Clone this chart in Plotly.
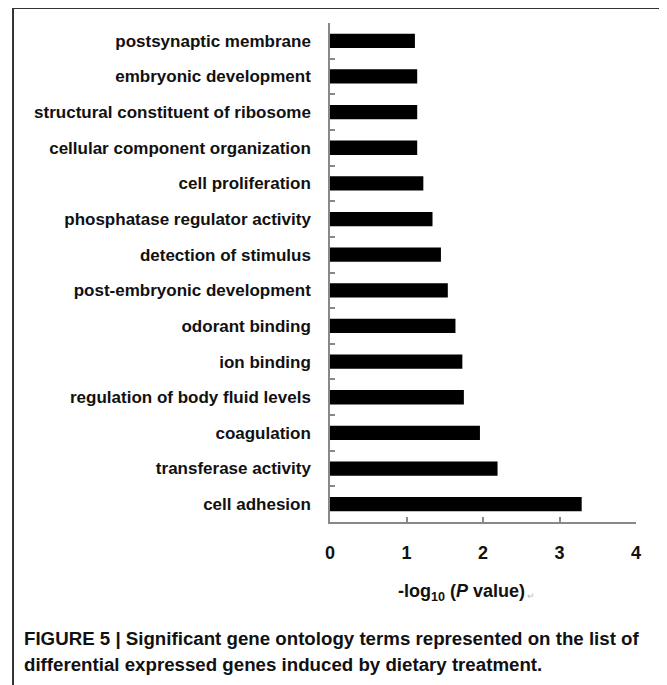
import plotly.graph_objects as go

categories = [
    "postsynaptic membrane",
    "embryonic development",
    "structural constituent of ribosome",
    "cellular component organization",
    "cell proliferation",
    "phosphatase regulator activity",
    "detection of stimulus",
    "post-embryonic development",
    "odorant binding",
    "ion binding",
    "regulation of body fluid levels",
    "coagulation",
    "transferase activity",
    "cell adhesion",
]
values = [1.11, 1.14, 1.14, 1.14, 1.22, 1.34, 1.45, 1.54, 1.64, 1.73, 1.75, 1.96, 2.19, 3.29]
x_ticks = [0, 1, 2, 3, 4]

OFF = 8  # page body margin
W, H = 667 - OFF, 685 - OFF
L, R, T, B = 329.5 - OFF, 31, 23 - OFF, 163
pw = W - L - R
ph = H - T - B

def px(x):
    return (x - OFF - L) / pw

def py(y):
    return (H - B - (y - OFF)) / ph

FONT = "Liberation Sans"

fig = go.Figure(go.Bar(
    x=values, y=categories, orientation="h",
    marker=dict(color="black", line=dict(width=0)),
    width=0.4,
))

fig.update_layout(
    width=W, height=H,
    margin=dict(l=L, r=R, t=T, b=B),
    paper_bgcolor="white", plot_bgcolor="white",
    showlegend=False,
    font=dict(family=FONT, color="#111"),
)
fig.update_xaxes(
    range=[0, 4], tickvals=x_ticks, ticktext=[str(v) for v in x_ticks],
    showgrid=False, zeroline=False,
    showline=True, linecolor="#888", linewidth=1.5,
    ticks="inside", ticklen=5, tickcolor="#888", tickwidth=1.5,
    tickfont=dict(family=FONT, size=18, color="#111", weight="bold"),
    ticklabelstandoff=14,
)
fig.update_yaxes(
    categoryorder="array", categoryarray=categories,
    autorange="reversed",
    showgrid=False, zeroline=False,
    showline=True, linecolor="#888", linewidth=1.5,
    ticks="inside", ticklen=5, tickcolor="#888", tickwidth=1.5,
    tickson="boundaries",
    tickfont=dict(family=FONT, size=17, color="#111", weight="bold"),
    ticklabelstandoff=14,
)

# axis title
fig.add_annotation(
    x=px(461), y=py(592), xref="paper", yref="paper",
    text="-log<sub>10</sub> (<i>P</i> value)",
    showarrow=False, xanchor="center", yanchor="middle",
    font=dict(family=FONT, size=18, color="#111", weight="bold"),
)
fig.add_annotation(
    x=px(525), y=py(596), xref="paper", yref="paper",
    text="↵",
    showarrow=False, xanchor="left", yanchor="middle",
    font=dict(family=FONT, size=9, color="#bbb"),
)

# caption
fig.add_annotation(
    x=px(21), y=py(638), xref="paper", yref="paper",
    text="FIGURE 5 | Significant gene ontology terms represented on the list of",
    showarrow=False, xanchor="left", yanchor="middle",
    font=dict(family=FONT, size=18.7, color="#111", weight="bold"),
)
fig.add_annotation(
    x=px(21), y=py(664), xref="paper", yref="paper",
    text="differential expressed genes induced by dietary treatment.",
    showarrow=False, xanchor="left", yanchor="middle",
    font=dict(family=FONT, size=18.7, color="#111", weight="bold"),
)

# frame
fig.add_shape(type="line", xref="paper", yref="paper",
              x0=px(12), x1=px(12), y0=py(8), y1=py(700),
              line=dict(color="#333", width=2))
fig.add_shape(type="line", xref="paper", yref="paper",
              x0=px(12), x1=px(665), y0=py(8), y1=py(8),
              line=dict(color="#333", width=2))
fig.add_shape(type="line", xref="paper", yref="paper",
              x0=px(665), x1=px(665), y0=py(8), y1=py(700),
              line=dict(color="#777", width=2))

fig.write_html("out.html")
